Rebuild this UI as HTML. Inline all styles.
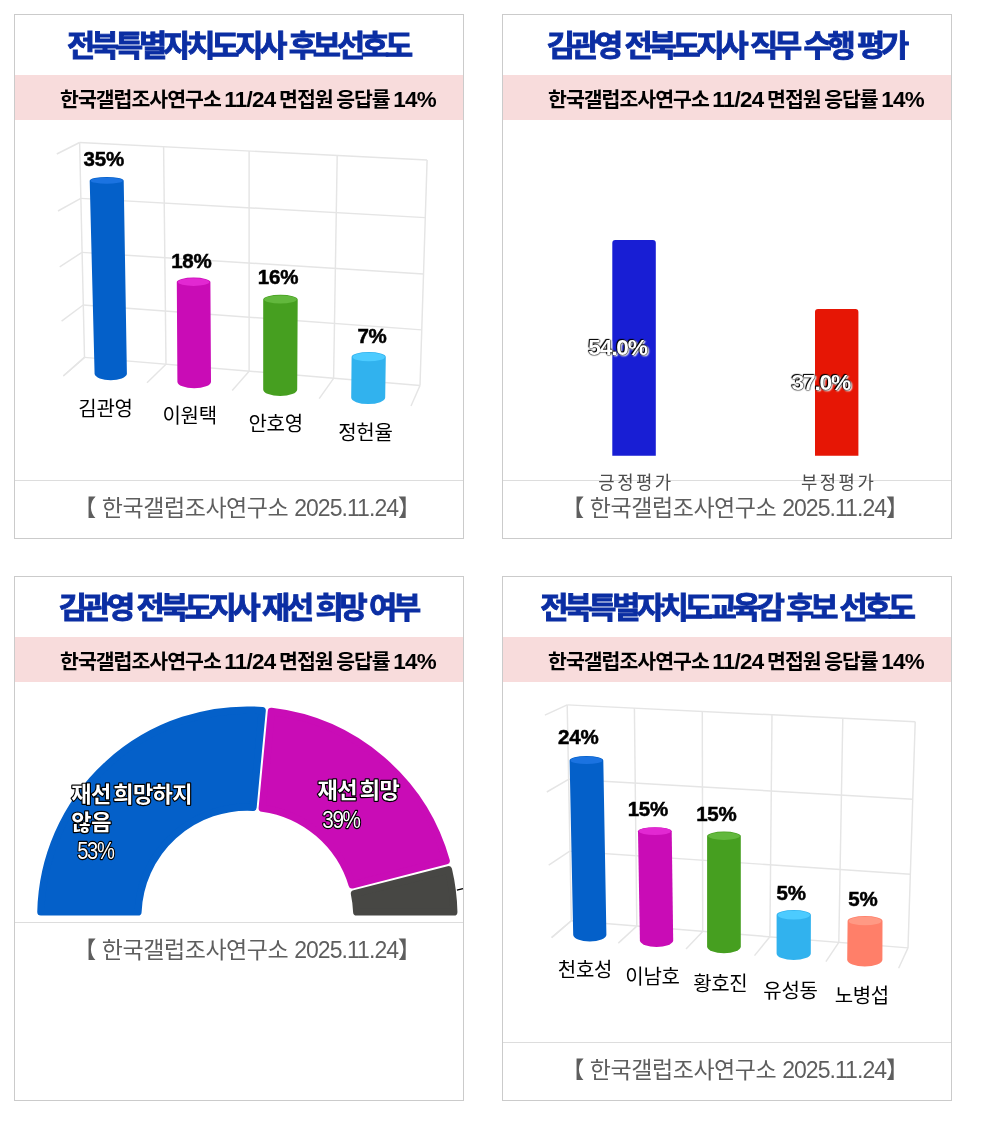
<!DOCTYPE html>
<html lang="ko"><head><meta charset="utf-8"><title>여론조사</title>
<style>
html,body{margin:0;padding:0;background:#fff;}
body{width:990px;height:1125px;position:relative;overflow:hidden;font-family:"Liberation Sans","Noto Sans CJK KR",sans-serif;}
.card{position:absolute;width:448px;height:523px;border:1px solid #cbcbcb;background:#fff;}
.title{position:absolute;left:-2px;width:450px;text-align:center;top:11px;font-size:29.2px;line-height:40px;font-weight:700;color:#0b2ea3;letter-spacing:-3.95px;word-spacing:1px;-webkit-text-stroke:0.9px #0b2ea3;transform:scaleX(1.05);white-space:nowrap;}
.sub{position:absolute;left:0;top:60px;width:448px;height:45px;background:#f8dcdc;}
.sub span{position:absolute;left:0;width:466px;text-align:center;top:2px;line-height:45px;font-size:20.5px;font-weight:700;color:#000;letter-spacing:-1px;word-spacing:-1.2px;white-space:nowrap;}
.sub b{font-weight:700;font-size:22.4px;letter-spacing:-0.7px;}
.foot{position:absolute;left:0;width:448px;border-top:1px solid #ddd;}
.foot span{position:absolute;left:0;width:464px;text-align:center;top:12px;line-height:30px;font-size:23px;color:#5e5e5e;letter-spacing:-0.45px;white-space:nowrap;}
.foot i{font-style:normal;letter-spacing:-0.95px;}
svg{position:absolute;left:0;top:0;}
.blab{position:absolute;width:120px;text-align:center;font-size:22.8px;line-height:26px;font-weight:700;color:#fff;letter-spacing:-1.2px;white-space:nowrap;text-shadow:-1px -1px 0.8px #000,0 0 1.3px #000,0 0 1.3px #000,0 0 1.3px #000,1.2px 1.2px 1.6px #fff,1.2px 1.2px 1.8px #fff;}
svg text{font-family:"Liberation Sans","Noto Sans CJK KR",sans-serif;}
</style></head><body>
<div class="card" style="left:14px;top:14px"><div class="title">전북특별자치도지사 후보선호도</div><div class="sub"><span>한국갤럽조사연구소 <b>11/24</b> 면접원 응답률 <b>14%</b></span></div><div class="foot" style="top:465px"><span>【 한국갤럽조사연구소 <i>2025.11.24</i>】</span></div></div>
<div class="card" style="left:502px;top:14px"><div class="title">김관영 전북도지사 직무 수행 평가</div><div class="sub"><span>한국갤럽조사연구소 <b>11/24</b> 면접원 응답률 <b>14%</b></span></div><div class="foot" style="top:465px"><span>【 한국갤럽조사연구소 <i>2025.11.24</i>】</span></div></div>
<div class="card" style="left:14px;top:576px"><div class="title">김관영 전북도지사 재선 희망 여부</div><div class="sub"><span>한국갤럽조사연구소 <b>11/24</b> 면접원 응답률 <b>14%</b></span></div><div class="foot" style="top:345px"><span>【 한국갤럽조사연구소 <i>2025.11.24</i>】</span></div></div>
<div class="card" style="left:502px;top:576px"><div class="title">전북특별자치도교육감 후보 선호도</div><div class="sub"><span>한국갤럽조사연구소 <b>11/24</b> 면접원 응답률 <b>14%</b></span></div><div class="foot" style="top:465px"><span>【 한국갤럽조사연구소 <i>2025.11.24</i>】</span></div></div>
<svg width="990" height="1125" viewBox="0 0 990 1125">
<g stroke="#e5e5e5" stroke-width="1.45" fill="none"><line x1="79.6" y1="142.5" x2="427.1" y2="160.0"/><line x1="79.6" y1="142.5" x2="56.8" y2="154.0"/><line x1="80.8" y1="198.4" x2="425.3" y2="217.6"/><line x1="80.8" y1="198.4" x2="58.0" y2="211.0"/><line x1="82.0" y1="252.4" x2="423.5" y2="274.0"/><line x1="82.0" y1="252.4" x2="59.7" y2="266.8"/><line x1="83.2" y1="305.0" x2="421.7" y2="329.9"/><line x1="83.2" y1="305.0" x2="61.6" y2="321.2"/><line x1="84.5" y1="357.4" x2="420.0" y2="385.5"/><line x1="84.5" y1="357.4" x2="63.3" y2="376.0"/><line x1="79.6" y1="142.5" x2="84.5" y2="357.4"/><line x1="84.5" y1="357.4" x2="63.3" y2="376.0"/><line x1="163.6" y1="146.7" x2="166.0" y2="364.2"/><line x1="166.0" y1="364.2" x2="147.0" y2="382.7"/><line x1="249.1" y1="151.0" x2="249.1" y2="371.2"/><line x1="249.1" y1="371.2" x2="232.2" y2="390.4"/><line x1="337.2" y1="155.5" x2="333.6" y2="378.3"/><line x1="333.6" y1="378.3" x2="319.2" y2="398.7"/><line x1="427.1" y1="160.0" x2="420.0" y2="385.5"/><line x1="420.0" y1="385.5" x2="411.0" y2="406.0"/></g>
<path d="M89.7,180.7 A17.0,3.7 0 0 1 123.7,180.7 L126.9,374.1 A16.2,6.6 0 0 1 94.6,374.1 Z" fill="#0460c9"/><ellipse cx="106.7" cy="180.7" rx="16.1" ry="3.0" fill="#1b73e1"/>
<path d="M176.8,282.1 A16.8,4.5 0 0 1 210.4,282.1 L211.0,381.7 A16.8,6.6 0 0 1 177.4,381.7 Z" fill="#c90cb6"/><ellipse cx="193.6" cy="282.1" rx="15.9" ry="3.8" fill="#e228d2"/>
<path d="M263.2,299.5 A17.2,4.7 0 0 1 297.7,299.5 L297.2,389.4 A17.0,6.6 0 0 1 263.2,389.4 Z" fill="#469f20"/><ellipse cx="280.4" cy="299.5" rx="16.4" ry="4.0" fill="#62b83d"/>
<path d="M351.6,357.0 A17.1,5 0 0 1 385.8,357.0 L385.2,397.6 A17.0,6.4 0 0 1 351.2,397.6 Z" fill="#31b2ee"/><ellipse cx="368.7" cy="357.0" rx="16.2" ry="4.3" fill="#4ccbff"/>
<text x="103.80000000000001" y="166.2" font-size="20.5" font-weight="700" fill="#000" text-anchor="middle" letter-spacing="-0.2" stroke="#000" stroke-width="0.5">35%</text>
<text x="191.4" y="268.1" font-size="20.5" font-weight="700" fill="#000" text-anchor="middle" letter-spacing="-0.2" stroke="#000" stroke-width="0.5">18%</text>
<text x="278.0" y="284.3" font-size="20.5" font-weight="700" fill="#000" text-anchor="middle" letter-spacing="-0.2" stroke="#000" stroke-width="0.5">16%</text>
<text x="372.0" y="343.1" font-size="20.5" font-weight="700" fill="#000" text-anchor="middle" letter-spacing="-0.2" stroke="#000" stroke-width="0.5">7%</text>
<text x="105.5" y="416" font-size="20" font-weight="400" fill="#000" text-anchor="middle" letter-spacing="-0.3">김관영</text>
<text x="189.6" y="423.3" font-size="20" font-weight="400" fill="#000" text-anchor="middle" letter-spacing="-0.3">이원택</text>
<text x="275.6" y="431" font-size="20" font-weight="400" fill="#000" text-anchor="middle" letter-spacing="-0.3">안호영</text>
<text x="365.4" y="440" font-size="20" font-weight="400" fill="#000" text-anchor="middle" letter-spacing="-0.3">정헌율</text>
<path d="M612.3,455.8 V243 a3,3 0 0 1 3,-3 H652.8 a3,3 0 0 1 3,3 V455.8 Z" fill="#181ed4"/>
<path d="M815,455.8 V312 a3,3 0 0 1 3,-3 H855.4 a3,3 0 0 1 3,3 V455.8 Z" fill="#e61605"/>
<text x="636" y="488.7" font-size="17.8" font-weight="400" fill="#4c4c4c" text-anchor="middle" letter-spacing="2.5">긍정평가</text>
<text x="838.6" y="488.7" font-size="17.8" font-weight="400" fill="#4c4c4c" text-anchor="middle" letter-spacing="2.5">부정평가</text>
<path d="M40.85,912.00 A206.55,206.55 0 0 1 262.20,710.58 L253.06,807.30 A109.44999999999999,109.44999999999999 0 0 0 138.00,912.00 Z" fill="#0460c9" stroke="#0460c9" stroke-width="7.2" stroke-linejoin="round"/>
<path d="M271.36,711.45 A206.55,206.55 0 0 1 446.22,860.79 L352.12,884.95 A109.44999999999999,109.44999999999999 0 0 0 262.22,808.16 Z" fill="#c90cb6" stroke="#c90cb6" stroke-width="7.2" stroke-linejoin="round"/>
<path d="M448.51,869.70 A206.55,206.55 0 0 1 453.85,912.00 L356.70,912.00 A109.44999999999999,109.44999999999999 0 0 0 354.41,893.86 Z" fill="#474744" stroke="#474744" stroke-width="7.2" stroke-linejoin="round"/>
<path d="M456.9,890.1 L463,888.6" stroke="#000" stroke-width="1.4"/>
<text x="71.3" y="801.6" font-size="22" font-weight="700" fill="#fff" text-anchor="start" style="paint-order:stroke" stroke="#000" stroke-width="2.4" stroke-linejoin="round" letter-spacing="-0.6" word-spacing="-2.8">재선 희망하지</text>
<text x="71.3" y="830" font-size="22" font-weight="700" fill="#fff" text-anchor="start" style="paint-order:stroke" stroke="#000" stroke-width="2.4" stroke-linejoin="round" letter-spacing="-0.4">않음</text>
<text x="77.2" y="859.3" font-size="24" font-weight="400" fill="#fff" text-anchor="start" style="paint-order:stroke" stroke="#000" stroke-width="2.4" stroke-linejoin="round" letter-spacing="-1.5" textLength="36.5" lengthAdjust="spacingAndGlyphs">53%</text>
<text x="317.5" y="798" font-size="22" font-weight="700" fill="#fff" text-anchor="start" style="paint-order:stroke" stroke="#000" stroke-width="2.4" stroke-linejoin="round" letter-spacing="-0.5" word-spacing="-2.8">재선 희망</text>
<text x="322.2" y="828.2" font-size="24" font-weight="400" fill="#fff" text-anchor="start" style="paint-order:stroke" stroke="#000" stroke-width="2.4" stroke-linejoin="round" letter-spacing="-1.5" textLength="37.5" lengthAdjust="spacingAndGlyphs">39%</text>
<g stroke="#e5e5e5" stroke-width="1.45" fill="none"><line x1="567.2" y1="704.9" x2="915.2" y2="721.7"/><line x1="567.2" y1="704.9" x2="544.9" y2="715.2"/><line x1="568.5" y1="779.3" x2="912.8" y2="799.2"/><line x1="568.5" y1="779.3" x2="546.8" y2="792.0"/><line x1="569.8" y1="851.2" x2="910.4" y2="874.3"/><line x1="569.8" y1="851.2" x2="548.7" y2="865.1"/><line x1="571.3" y1="920.8" x2="908.0" y2="947.9"/><line x1="571.3" y1="920.8" x2="551.6" y2="937.6"/><line x1="567.2" y1="704.9" x2="571.3" y2="920.8"/><line x1="571.3" y1="920.8" x2="551.6" y2="937.6"/><line x1="634.4" y1="708.1" x2="636.8" y2="926.1"/><line x1="636.8" y1="926.1" x2="618.3" y2="943.1"/><line x1="702.3" y1="711.4" x2="702.7" y2="931.4"/><line x1="702.7" y1="931.4" x2="686.0" y2="949.1"/><line x1="772.0" y1="714.8" x2="769.9" y2="936.8"/><line x1="769.9" y1="936.8" x2="754.5" y2="955.6"/><line x1="842.8" y1="718.2" x2="838.8" y2="942.3"/><line x1="838.8" y1="942.3" x2="825.9" y2="961.6"/><line x1="915.2" y1="721.7" x2="908.0" y2="947.9"/><line x1="908.0" y1="947.9" x2="898.6" y2="968.3"/></g>
<path d="M569.6,760.4 A16.8,4.4 0 0 1 603.3,760.4 L606.4,934.8 A16.6,6.6 0 0 1 573.2,934.8 Z" fill="#0460c9"/><ellipse cx="586.5" cy="760.4" rx="15.9" ry="3.7" fill="#1b73e1"/>
<path d="M638.0,831.3 A16.9,4.5 0 0 1 671.7,831.3 L673.2,940.8 A16.7,6.6 0 0 1 639.9,940.8 Z" fill="#c90cb6"/><ellipse cx="654.9" cy="831.3" rx="16.0" ry="3.8" fill="#e228d2"/>
<path d="M707.1,836.1 A16.8,4.5 0 0 1 740.8,836.1 L740.8,946.6 A16.8,6.6 0 0 1 707.1,946.6 Z" fill="#469f20"/><ellipse cx="724.0" cy="836.1" rx="15.9" ry="3.8" fill="#62b83d"/>
<path d="M776.6,915.1 A17.1,5 0 0 1 810.9,915.1 L810.8,953.4 A17.1,6.6 0 0 1 776.6,953.4 Z" fill="#31b2ee"/><ellipse cx="793.8" cy="915.1" rx="16.2" ry="4.3" fill="#4ccbff"/>
<path d="M847.6,921.0 A17.4,5 0 0 1 882.5,921.0 L882.4,959.8 A17.6,6.6 0 0 1 847.2,959.8 Z" fill="#ff7f69"/><ellipse cx="865.0" cy="921.0" rx="16.5" ry="4.3" fill="#ff9984"/>
<text x="578.3" y="744.2" font-size="20.5" font-weight="700" fill="#000" text-anchor="middle" letter-spacing="-0.2" stroke="#000" stroke-width="0.5">24%</text>
<text x="647.9" y="816.2" font-size="20.5" font-weight="700" fill="#000" text-anchor="middle" letter-spacing="-0.2" stroke="#000" stroke-width="0.5">15%</text>
<text x="716.4" y="821.0" font-size="20.5" font-weight="700" fill="#000" text-anchor="middle" letter-spacing="-0.2" stroke="#000" stroke-width="0.5">15%</text>
<text x="791.1" y="900.2" font-size="20.5" font-weight="700" fill="#000" text-anchor="middle" letter-spacing="-0.2" stroke="#000" stroke-width="0.5">5%</text>
<text x="862.9" y="906.2" font-size="20.5" font-weight="700" fill="#000" text-anchor="middle" letter-spacing="-0.2" stroke="#000" stroke-width="0.5">5%</text>
<text x="585" y="976.5" font-size="20" font-weight="400" fill="#000" text-anchor="middle" letter-spacing="-0.3">천호성</text>
<text x="652.5" y="984" font-size="20" font-weight="400" fill="#000" text-anchor="middle" letter-spacing="-0.3">이남호</text>
<text x="720.3" y="990.5" font-size="20" font-weight="400" fill="#000" text-anchor="middle" letter-spacing="-0.3">황호진</text>
<text x="790.5" y="997.5" font-size="20" font-weight="400" fill="#000" text-anchor="middle" letter-spacing="-0.3">유성동</text>
<text x="861.8" y="1003" font-size="20" font-weight="400" fill="#000" text-anchor="middle" letter-spacing="-0.3">노병섭</text>
</svg>
<div class="blab" style="left:557.6px;top:333.5px">54.0%</div>
<div class="blab" style="left:760.8px;top:369px">37.0%</div>
</body></html>
